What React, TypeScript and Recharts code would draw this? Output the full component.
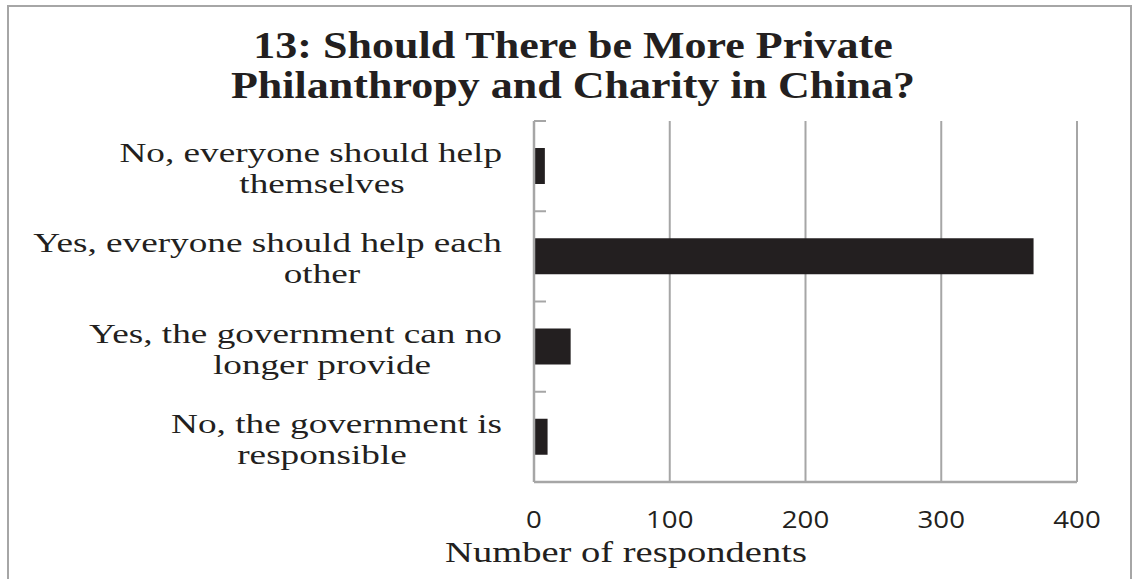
import React from "react";
import { BarChart, Bar, XAxis, YAxis, CartesianGrid } from "recharts";

const categories = [
  "No, everyone should help themselves",
  "Yes, everyone should help each other",
  "Yes, the government can no longer provide",
  "No, the government is responsible",
];
const categoryLines = [
  ["No, everyone should help", "themselves"],
  ["Yes, everyone should help each", "other"],
  ["Yes, the government can no", "longer provide"],
  ["No, the government is", "responsible"],
];
const respondents = [8, 368, 27, 10];
const xTicks = [0, 100, 200, 300, 400];
const titleLines = ["13: Should There be More Private", "Philanthropy and Charity in China?"];
const xAxisTitle = "Number of respondents";

const data = categories.map((c, i) => ({ category: c, value: respondents[i] }));

const W = 1136;
const H = 579;
const PLOT_TOP = 121;
const PLOT_BOTTOM = 482;
const PLOT_LEFT = 534;
const PLOT_RIGHT = 1077;
const BAND = (PLOT_BOTTOM - PLOT_TOP) / categories.length;
const GRID = "#a6a6a6";
const INK = "#231f20";
const SERIF = "'Liberation Serif', 'Times New Roman', serif";
const SANS = "'Open Sans', 'Noto Sans', sans-serif";
const SX = 1.33;

const YTick = (props: any) => {
  const { x, y, index } = props;
  const lines = categoryLines[index] || [String(props.payload?.value ?? "")];
  return (
    <g>
      <line x1={x} x2={x + 12} y1={y - BAND / 2} y2={y - BAND / 2} stroke={GRID} strokeWidth={2} />
      <text
        transform={`translate(${x - 32},${y - 4}) scale(${SX},1)`}
        textAnchor="end"
        fontFamily={SERIF}
        fontSize={28}
        fill={INK}
      >
        {lines[0]}
      </text>
      {lines[1] ? (
        <text
          transform={`translate(${x - 212},${y + 27}) scale(${SX},1)`}
          textAnchor="middle"
          fontFamily={SERIF}
          fontSize={28}
          fill={INK}
        >
          {lines[1]}
        </text>
      ) : null}
    </g>
  );
};

const XTick = (props: any) => {
  const { x, y, payload } = props;
  return (
    <text
      transform={`translate(${x},${y + 46}) scale(1.2,1)`}
      textAnchor="middle"
      fontFamily={SANS}
      fontSize={23}
      fill={INK}
    >
      {payload.value}
    </text>
  );
};

export default function App() {
  return (
    <div style={{ position: "absolute", left: 0, top: 0, width: W, height: H, background: "#fff", overflow: "hidden" }}>
      <div
        style={{
          position: "absolute",
          left: 7,
          top: 5,
          width: 1125,
          height: 700,
          border: `2px solid ${GRID}`,
          boxSizing: "border-box",
        }}
      />
      <div style={{ position: "absolute", left: 0, top: 0 }}>
        <BarChart
          width={W}
          height={H}
          data={data}
          layout="vertical"
          margin={{ top: PLOT_TOP, bottom: 0, left: 0, right: W - PLOT_RIGHT }}
          barSize={36}
        >
          <CartesianGrid horizontal={false} vertical={true} stroke={GRID} strokeWidth={2} />
          <XAxis
            type="number"
            domain={[0, 400]}
            ticks={xTicks}
            axisLine={{ stroke: GRID, strokeWidth: 2.5 }}
            tickLine={false}
            tickSize={0}
            tickMargin={0}
            tick={<XTick />}
            height={H - PLOT_BOTTOM}
            interval={0}
          />
          <YAxis
            type="category"
            dataKey="category"
            width={PLOT_LEFT}
            axisLine={{ stroke: GRID, strokeWidth: 2.5 }}
            tickLine={false}
            tickSize={0}
            tickMargin={0}
            tick={<YTick />}
            interval={0}
          />
          <Bar dataKey="value" fill={INK} isAnimationActive={false} />
        </BarChart>
      </div>
      <svg width={W} height={H} style={{ position: "absolute", left: 0, top: 0, pointerEvents: "none" }}>
        {titleLines.map((t, i) => (
          <text
            key={i}
            transform={`translate(573,${58 + i * 40}) scale(1.19,1)`}
            textAnchor="middle"
            fontFamily={SERIF}
            fontWeight="bold"
            fontSize={37}
            fill={INK}
          >
            {t}
          </text>
        ))}
        <text
          transform={`translate(626,562) scale(${SX},1)`}
          textAnchor="middle"
          fontFamily={SERIF}
          fontSize={29}
          fill={INK}
        >
          {xAxisTitle}
        </text>
      </svg>
    </div>
  );
}
